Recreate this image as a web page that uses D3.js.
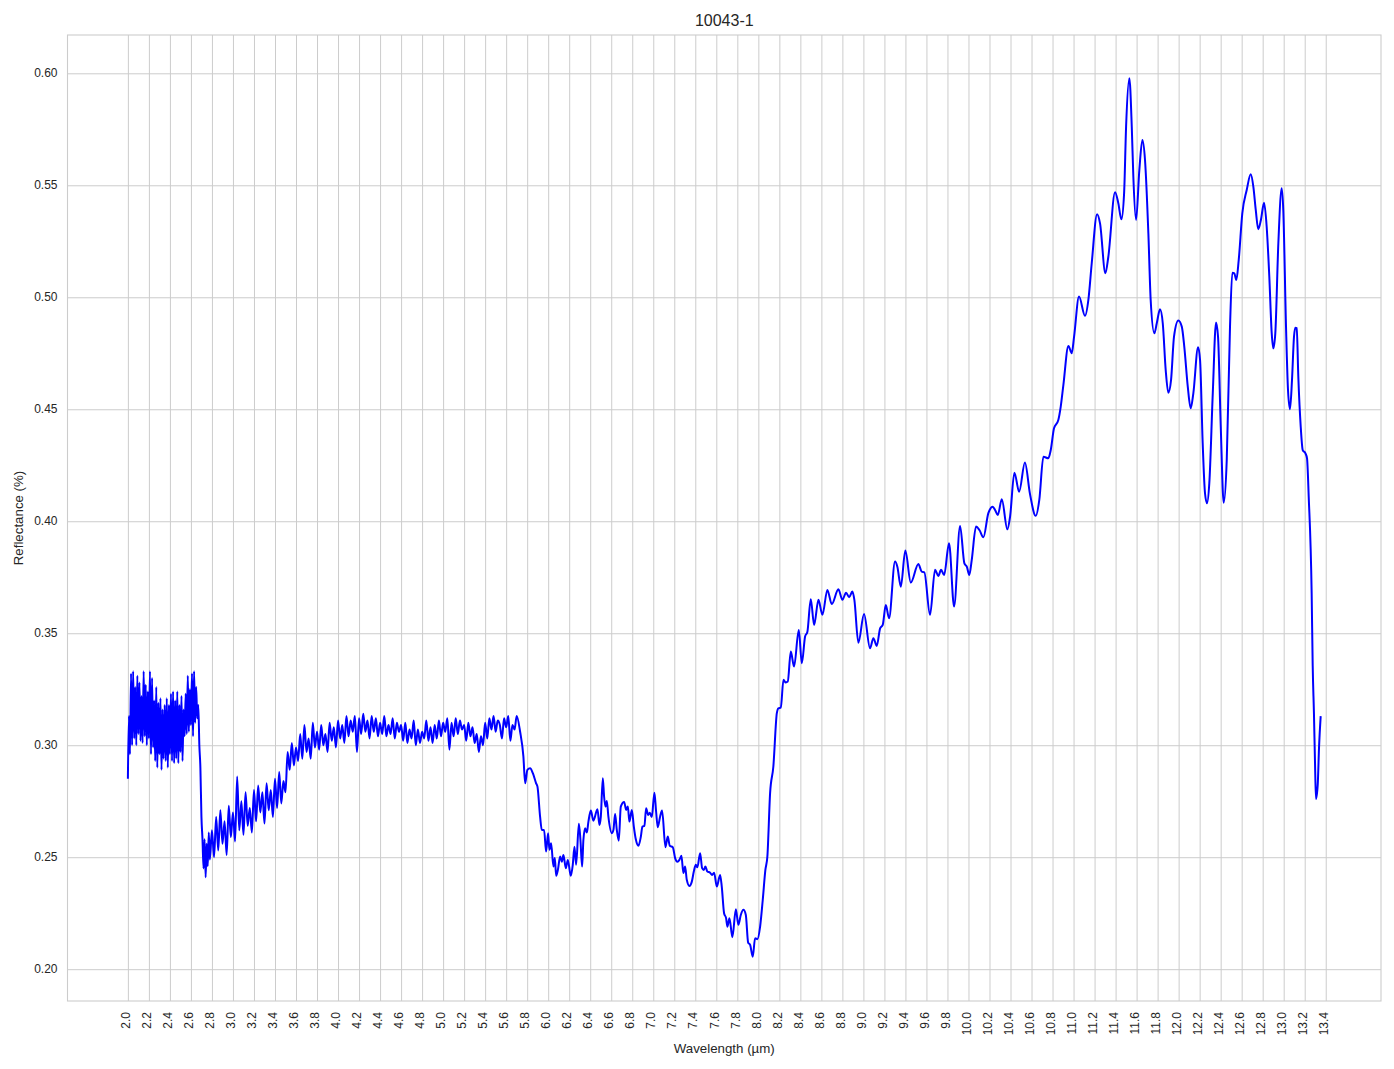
<!DOCTYPE html>
<html>
<head>
<meta charset="utf-8">
<script src="https://cdn.jsdelivr.net/npm/d3@7"></script>
<style>
  html, body { margin: 0; padding: 0; background: #ffffff; }
  svg { display: block; font-family: "Liberation Sans", Arial, sans-serif; }
</style>
</head>
<body>
<svg id="chart" width="1394" height="1069"></svg>
<script>
// ---------------- DATA ----------------
const chartTitle = "10043-1";
const xAxisLabel = "Wavelength (µm)";
const yAxisLabel = "Reflectance (%)";

const xTickLabels = ["2.0","2.2","2.4","2.6","2.8","3.0","3.2","3.4","3.6","3.8","4.0","4.2","4.4","4.6","4.8","5.0","5.2","5.4","5.6","5.8","6.0","6.2","6.4","6.6","6.8","7.0","7.2","7.4","7.6","7.8","8.0","8.2","8.4","8.6","8.8","9.0","9.2","9.4","9.6","9.8","10.0","10.2","10.4","10.6","10.8","11.0","11.2","11.4","11.6","11.8","12.0","12.2","12.4","12.6","12.8","13.0","13.2","13.4"];
const yTickLabels = ["0.20","0.25","0.30","0.35","0.40","0.45","0.50","0.55","0.60"];

// noisy segment 1: sampled every 0.01 µm starting at 2.00
const noisy1Start = 2.00, noisy1Step = 0.01;
const noisy1Reflectance = [
0.285,0.313,0.296,0.332,0.300,0.333,0.303,0.326,0.300,0.331,
0.305,0.328,0.302,0.322,0.301,0.333,0.304,0.327,0.300,0.324,
0.303,0.333,0.296,0.330,0.299,0.320,0.293,0.326,0.290,0.319,
0.296,0.321,0.289,0.316,0.294,0.318,0.293,0.321,0.290,0.318,
0.296,0.323,0.293,0.324,0.292,0.320,0.294,0.324,0.292,0.318,
0.297,0.322,0.293,0.316,0.304,0.323,0.305,0.331,0.306,0.325,
0.309,0.332,0.304,0.333,0.310,0.326,0.312,0.318,0.300,0.290,
0.268,0.258,0.245,0.258,0.241,0.256,0.246,0.261,0.249
];

// noisy segment 2: sampled every 0.02 µm starting at 2.80
const noisy2Start = 2.80, noisy2Step = 0.02;
const noisy2Reflectance = [
0.262,0.250,0.268,0.253,0.271,0.256,0.266,0.251,0.273,0.259,
0.270,0.257,0.286,0.262,0.275,0.260,0.279,0.264,0.272,0.261,
0.280,0.266,0.282,0.270,0.279,0.265,0.283,0.271,0.280,0.268,
0.285,0.272,0.288,0.274,0.284,0.279,0.297,0.289,0.301,0.291,
0.299,0.293,0.305,0.294,0.309,0.297,0.303,0.294,0.310,0.299,
0.306,0.298,0.309,0.300,0.305,0.297,0.310,0.302,0.308,0.299,
0.311,0.303,0.309,0.301,0.313,0.304,0.311,0.306,0.313,0.297,
0.312,0.305,0.314,0.306,0.311,0.303,0.313,0.306,0.312,0.304,
0.310,0.305,0.313,0.304,0.309,0.305,0.312,0.303,0.310,0.306,
0.309,0.302,0.310,0.301,0.307,0.303,0.311,0.300,0.307,0.301,
0.306,0.303,0.311,0.302,0.308,0.301,0.309,0.303,0.311,0.304,
0.310,0.306,0.312,0.298,0.310,0.304,0.312,0.305,0.311,0.307,
0.309,0.302,0.310,0.304,0.308,0.301,0.305,0.297,0.304,0.300,
0.310,0.303,0.312,0.307,0.313,0.306,0.311,0.309,0.303,0.312,
0.308,0.313,0.302,0.309,0.307,0.313
];

// smooth segment
const smoothWavelength = [
5.733,5.764,5.781,5.802,5.828,5.854,5.885,5.898,5.923,5.939,5.961,5.980,5.999,6.012,6.028,6.050,6.063,6.076,6.092,6.114,
6.130,6.145,6.168,6.187,6.215,6.234,6.250,6.266,6.292,6.307,6.323,6.335,6.352,6.368,6.383,6.406,6.430,6.469,6.488,6.501,
6.520,6.532,6.545,6.558,6.573,6.606,6.621,6.637,6.653,6.672,6.691,6.723,6.742,6.758,6.773,6.796,6.815,6.834,6.859,6.882,
6.897,6.916,6.932,6.951,6.967,6.986,7.011,7.027,7.043,7.065,7.084,7.116,7.138,7.157,7.186,7.208,7.230,7.249,7.268,7.287,
7.303,7.319,7.344,7.367,7.386,7.405,7.420,7.446,7.465,7.481,7.496,7.515,7.541,7.560,7.579,7.605,7.636,7.652,7.674,7.693,
7.706,7.725,7.753,7.786,7.810,7.833,7.858,7.881,7.903,7.922,7.947,7.969,7.991,8.017,8.042,8.067,8.086,8.112,8.143,8.176,
8.191,8.214,8.239,8.261,8.280,8.309,8.340,8.385,8.414,8.445,8.467,8.499,8.531,8.572,8.610,8.657,8.699,8.762,8.800,8.835,
8.864,8.895,8.914,8.952,9.006,9.063,9.095,9.127,9.159,9.184,9.213,9.244,9.301,9.323,9.356,9.399,9.451,9.523,9.555,9.580,
9.634,9.682,9.713,9.739,9.768,9.815,9.863,9.920,9.961,9.984,10.008,10.031,10.072,10.104,10.142,10.189,10.231,10.253,10.279,10.317,
10.370,10.396,10.437,10.482,10.537,10.586,10.640,10.674,10.713,10.760,10.783,10.814,10.855,10.878,10.903,10.951,10.983,11.005,11.052,11.109,
11.141,11.173,11.224,11.252,11.303,11.331,11.395,11.426,11.455,11.481,11.500,11.531,11.554,11.569,11.595,11.626,11.655,11.680,11.712,11.734,
11.769,11.792,11.823,11.849,11.877,11.902,11.928,11.956,11.997,12.030,12.054,12.087,12.115,12.140,12.185,12.204,12.229,12.251,12.270,12.292,
12.325,12.356,12.375,12.401,12.429,12.458,12.489,12.511,12.530,12.549,12.572,12.606,12.648,12.686,12.711,12.734,12.758,12.783,12.813,12.838,
12.863,12.886,12.901,12.920,12.949,12.981,12.996,13.022,13.041,13.060,13.079,13.098,13.111,13.124,13.139,13.162,13.181,13.206,13.222,13.238,
13.266,13.276,13.288,13.298,13.307,13.324,13.336,13.352
];
const smoothReflectance = [
0.306,0.295,0.283,0.289,0.2897,0.2875,0.2830,0.2815,0.2681,0.2622,0.2622,0.2525,0.2607,0.2533,0.2562,0.2458,0.2496,0.2417,0.2443,0.2503,
0.2480,0.2510,0.2451,0.2488,0.2417,0.2466,0.2547,0.2466,0.2649,0.2577,0.2458,0.2577,0.2629,0.2610,0.2659,0.2708,0.2663,0.2714,0.2644,0.2681,
0.2853,0.2771,0.2726,0.2751,0.2681,0.2607,0.2622,0.2693,0.2622,0.2574,0.2726,0.2747,0.2711,0.2726,0.2659,0.2711,0.2637,0.2580,0.2551,0.2592,
0.2637,0.2640,0.2719,0.2689,0.2699,0.2679,0.2788,0.2704,0.2634,0.2681,0.2708,0.2545,0.2592,0.2551,0.2545,0.2496,0.2480,0.2488,0.2506,0.2429,
0.2458,0.2399,0.2372,0.2391,0.2436,0.2466,0.2455,0.2518,0.2451,0.2443,0.2458,0.2436,0.2431,0.2421,0.2431,0.2369,0.2421,0.2369,0.2250,0.2228,
0.2190,0.2228,0.2143,0.2268,0.2198,0.2242,0.2265,0.2242,0.2119,0.2109,0.2056,0.2138,0.2134,0.2190,0.2309,0.2443,0.2503,0.2786,0.2905,0.3143,
0.3165,0.3168,0.3292,0.3280,0.3284,0.3418,0.3351,0.3515,0.3366,0.3485,0.3507,0.3652,0.3537,0.3649,0.3582,0.3693,0.3630,0.3696,0.3649,0.3681,
0.3661,0.3686,0.3649,0.3458,0.3586,0.3433,0.3478,0.3443,0.3522,0.3537,0.3626,0.3567,0.3820,0.3797,0.3708,0.3869,0.3726,0.3809,0.3775,0.3772,
0.3582,0.3783,0.3756,0.3783,0.3760,0.3902,0.3619,0.3979,0.3812,0.3797,0.3760,0.3827,0.3976,0.3961,0.3929,0.4036,0.4065,0.4050,0.4028,0.4098,
0.3964,0.4021,0.4217,0.4132,0.4262,0.4120,0.4024,0.4095,0.4288,0.4281,0.4318,0.4415,0.4452,0.4512,0.4608,0.4783,0.4750,0.4824,0.5003,0.4917,
0.4988,0.5152,0.5371,0.5330,0.5107,0.5181,0.5469,0.5420,0.5348,0.5464,0.5762,0.5978,0.5762,0.5538,0.5345,0.5568,0.5702,0.5613,0.5286,0.4988,
0.4839,0.4884,0.4946,0.4884,0.4675,0.4574,0.4631,0.4824,0.4896,0.4869,0.4779,0.4601,0.4504,0.4571,0.4777,0.4720,0.4348,0.4125,0.4080,0.4170,
0.4571,0.4887,0.4824,0.4422,0.4083,0.4274,0.4869,0.5110,0.5107,0.5077,0.5167,0.5375,0.5479,0.5549,0.5494,0.5390,0.5304,0.5345,0.5422,0.5315,
0.5092,0.4839,0.4772,0.4839,0.5241,0.5487,0.5390,0.4869,0.4586,0.4500,0.4631,0.4824,0.4864,0.4862,0.4646,0.4422,0.4318,0.4304,0.4281,0.4110,
0.3680,0.3355,0.3139,0.2922,0.2760,0.2825,0.2987,0.3130
];

// ---------------- BUILD POINTS ----------------
const points = [];
noisy1Reflectance.forEach((v, i) => points.push({ w: noisy1Start + i * noisy1Step, r: v }));
noisy2Reflectance.forEach((v, i) => points.push({ w: noisy2Start + i * noisy2Step, r: v }));
smoothWavelength.forEach((w, i) => points.push({ w: w, r: smoothReflectance[i] }));

// ---------------- LAYOUT ----------------
const svg = d3.select("#chart");
const plot = { left: 67.5, right: 1381, top: 35, bottom: 1001 };
const textColor = "#262626";
const gridColor = "#cccccc";

const x = d3.scaleLinear().domain([1.4253, 13.926]).range([plot.left, plot.right]);
const y = d3.scaleLinear().domain([0.1858, 0.6171]).range([plot.bottom, plot.top]);

const xTicks = xTickLabels.map(Number);
const yTicks = yTickLabels.map(Number);

// grid via axes
const gx = svg.append("g")
  .attr("transform", `translate(0,${plot.bottom})`)
  .call(d3.axisBottom(x).tickValues(xTicks).tickSize(-(plot.bottom - plot.top)).tickFormat(""));
gx.select(".domain").remove();
gx.selectAll(".tick line").attr("stroke", gridColor).attr("stroke-width", 1);

const gy = svg.append("g")
  .attr("transform", `translate(${plot.left},0)`)
  .call(d3.axisLeft(y).tickValues(yTicks).tickSize(-(plot.right - plot.left)).tickFormat(""));
gy.select(".domain").remove();
gy.selectAll(".tick line").attr("stroke", gridColor).attr("stroke-width", 1);

// frame
svg.append("rect")
  .attr("x", plot.left).attr("y", plot.top)
  .attr("width", plot.right - plot.left).attr("height", plot.bottom - plot.top)
  .attr("fill", "none").attr("stroke", gridColor).attr("stroke-width", 1.1);

// tick labels
svg.append("g").selectAll("text")
  .data(xTickLabels)
  .join("text")
  .attr("transform", d => `translate(${x(+d) - 2},${plot.bottom + 11}) rotate(-90)`)
  .attr("text-anchor", "end")
  .attr("dy", "0.35em")
  .attr("font-size", 12)
  .attr("fill", textColor)
  .text(d => d);

svg.append("g").selectAll("text")
  .data(yTickLabels)
  .join("text")
  .attr("x", plot.left - 10)
  .attr("y", d => y(+d))
  .attr("text-anchor", "end")
  .attr("dy", "0.35em")
  .attr("font-size", 12)
  .attr("fill", textColor)
  .text(d => d);

// line
const line = d3.line()
  .x(d => x(d.w))
  .y(d => y(d.r))
  .curve(d3.curveMonotoneX);

svg.append("path")
  .datum(points)
  .attr("d", line)
  .attr("fill", "none")
  .attr("stroke", "#0000ff")
  .attr("stroke-width", 2)
  .attr("stroke-linejoin", "round");

// labels
svg.append("text")
  .attr("x", (plot.left + plot.right) / 2)
  .attr("y", 26)
  .attr("text-anchor", "middle")
  .attr("font-size", 16)
  .attr("fill", textColor)
  .text(chartTitle);

svg.append("text")
  .attr("x", (plot.left + plot.right) / 2)
  .attr("y", 1053)
  .attr("text-anchor", "middle")
  .attr("font-size", 13.3)
  .attr("fill", textColor)
  .text(xAxisLabel);

svg.append("text")
  .attr("transform", `translate(23,${(plot.top + plot.bottom) / 2}) rotate(-90)`)
  .attr("text-anchor", "middle")
  .attr("font-size", 13.3)
  .attr("fill", textColor)
  .text(yAxisLabel);
</script>
</body>
</html>
